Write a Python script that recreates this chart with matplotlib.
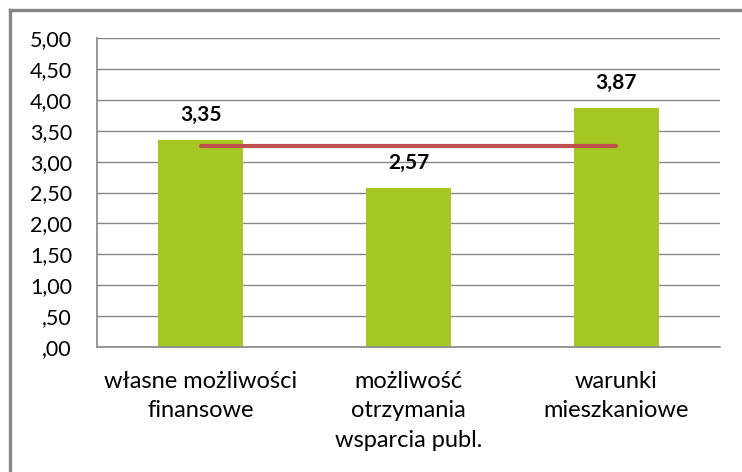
import matplotlib
matplotlib.use('Agg')
import matplotlib.pyplot as plt
from matplotlib.lines import Line2D

# Data
categories = ['własne możliwości\nfinansowe', 'możliwość\notrzymania\nwsparcia publ.', 'warunki\nmieszkaniowe']
values = [3.35, 2.57, 3.87]
value_labels = ['3,35', '2,57', '3,87']
mean_value = 3.26
yticks = [0, 0.5, 1.0, 1.5, 2.0, 2.5, 3.0, 3.5, 4.0, 4.5, 5.0]
ytick_labels = [',00', ',50', '1,00', '1,50', '2,00', '2,50', '3,00', '3,50', '4,00', '4,50', '5,00']

plt.rcParams['font.family'] = ['Lato', 'DejaVu Sans']

fig = plt.figure(figsize=(7.42, 4.72), dpi=100)
ax = fig.add_axes([0.1307, 0.2648, 0.8396, 0.6547])

x = list(range(len(values)))
ax.bar(x, values, width=0.41, color='#A5C722', zorder=2)
ax.plot([x[0], x[-1]], [mean_value, mean_value], color='#C0504D', lw=3, solid_capstyle='round', zorder=3)

for xi, v, lab in zip(x, values, value_labels):
    ax.annotate(lab, (xi, v), xytext=(0, 18), textcoords='offset points',
                ha='center', va='center', fontsize=15, fontweight='bold', color='black')

ax.set_xlim(-0.5, 2.5)
ax.set_ylim(0, 5)
ax.set_yticks(yticks)
ax.set_yticklabels(ytick_labels, fontsize=15.5)
ax.set_xticks(x)
ax.set_xticklabels(categories, fontsize=17, linespacing=1.5)
ax.tick_params(axis='y', length=0, pad=18)
ax.tick_params(axis='x', length=0, pad=17)
ax.yaxis.grid(True, color='#868686', lw=1)
ax.set_axisbelow(True)
for s in ['top', 'right']:
    ax.spines[s].set_visible(False)
for s in ['left', 'bottom']:
    ax.spines[s].set_color('#868686')
    ax.spines[s].set_linewidth(1.2)

# outer border (only left and top visible, chart is cropped)
bx, by = 10 / 742, 1 - 9.5 / 472
fig.add_artist(Line2D([bx, bx], [0, by], transform=fig.transFigure, color='#868686', lw=2.4))
fig.add_artist(Line2D([bx, 1], [by, by], transform=fig.transFigure, color='#868686', lw=2.4))

fig.savefig('out.png', dpi=100)
